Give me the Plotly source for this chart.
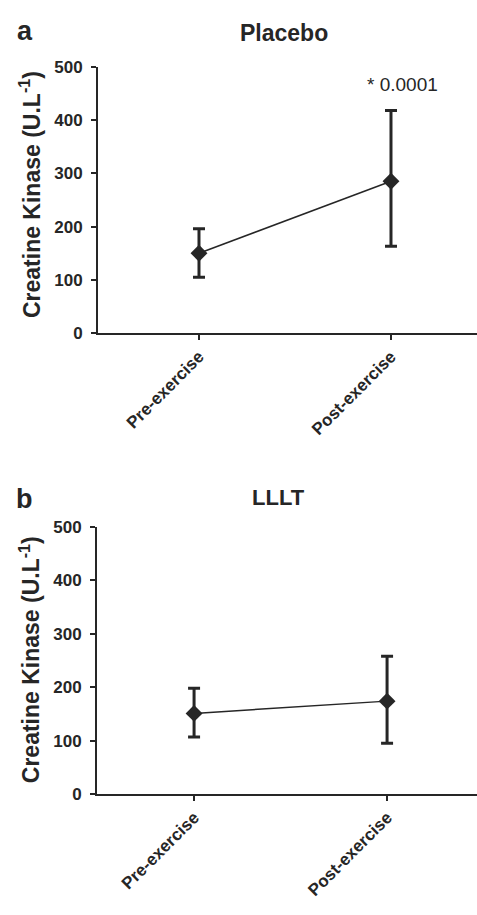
import plotly.graph_objects as go

categories = ["Pre-exercise", "Post-exercise"]
placebo_mean = [150, 285]
placebo_err_plus = [46, 133]
placebo_err_minus = [45, 122]
lllt_mean = [151, 174]
lllt_err_plus = [47, 84]
lllt_err_minus = [44, 79]
y_ticks = [0, 100, 200, 300, 400, 500]
panel_titles = ["Placebo", "LLLT"]
panel_letters = ["a", "b"]
y_title = "Creatine Kinase (U.L<sup>-1</sup>)"
sig_label = "* 0.0001"

W, H = 477, 915
INK = "#262626"
FONT = "Arial, Liberation Sans, sans-serif"

fig = go.Figure()

def add_series(mean, ep, em, xa, ya):
    fig.add_trace(go.Scatter(
        x=[0, 1], y=mean, mode="lines+markers",
        xaxis=xa, yaxis=ya,
        line=dict(color=INK, width=1.5),
        marker=dict(symbol="diamond", size=13, color=INK),
        error_y=dict(type="data", symmetric=False, array=ep, arrayminus=em,
                     color=INK, thickness=3, width=6),
        showlegend=False,
    ))

add_series(placebo_mean, placebo_err_plus, placebo_err_minus, "x", "y")
add_series(lllt_mean, lllt_err_plus, lllt_err_minus, "x2", "y2")

def py(pix):
    return 1 - pix / H

axis_common = dict(showline=True, linecolor=INK, linewidth=1.8, ticks="outside",
                   tickcolor=INK, tickwidth=1.8, showgrid=False, zeroline=False)
xtick_font = dict(size=17, color=INK, weight="bold")
ytick_font = dict(size=17, color=INK, weight="bold")

fig.update_layout(
    width=W, height=H,
    margin=dict(l=0, r=0, t=0, b=0),
    paper_bgcolor="white", plot_bgcolor="white",
    font=dict(family=FONT, color=INK),
    xaxis=dict(domain=[98 / W, 1], range=[-0.526, 1.448], tickmode="array",
               tickvals=[0, 1], ticktext=categories, tickangle=-45, ticklen=5,
               tickfont=xtick_font, anchor="y", **axis_common),
    yaxis=dict(domain=[py(331), py(59)], range=[0, 500], tickvals=y_ticks, ticklen=5,
               ticklabelstandoff=5, tickfont=ytick_font, anchor="x", **axis_common),
    xaxis2=dict(domain=[97 / W, 1], range=[-0.503, 1.466], tickmode="array",
                tickvals=[0, 1], ticktext=categories, tickangle=-45, ticklen=5,
                tickfont=xtick_font, anchor="y2", **axis_common),
    yaxis2=dict(domain=[py(801.7), py(529)], range=[0, 500], tickvals=y_ticks, ticklen=5,
                ticklabelstandoff=5, tickfont=ytick_font, anchor="x2", **axis_common),
)

annots = [
    dict(x=284 / W, y=py(25), text="<b>" + panel_titles[0] + "</b>", font=dict(size=23)),
    dict(x=278 / W, y=py(499), text="<b>" + panel_titles[1] + "</b>", font=dict(size=22)),
    dict(x=25 / W, y=py(22), text="<b>" + panel_letters[0] + "</b>", font=dict(size=27)),
    dict(x=24 / W, y=py(500), text="<b>" + panel_letters[1] + "</b>", font=dict(size=27)),
    dict(x=30 / W, y=py(190), text="<b>" + y_title + "</b>", font=dict(size=23), textangle=-90),
    dict(x=30 / W, y=py(665), text="<b>" + y_title + "</b>", font=dict(size=23), textangle=-90),
]
for a in annots:
    fig.add_annotation(xref="paper", yref="paper", showarrow=False,
                       xanchor="center", yanchor="middle", **a)

fig.add_annotation(xref="x", yref="y", x=1, y=placebo_mean[1] + placebo_err_plus[1],
                   text=sig_label, showarrow=False, xanchor="center", yanchor="bottom",
                   xshift=12, yshift=13, font=dict(size=19, color=INK))

fig.write_html("out.html", config={"displayModeBar": False},
               post_script="document.body.style.margin='0';")
